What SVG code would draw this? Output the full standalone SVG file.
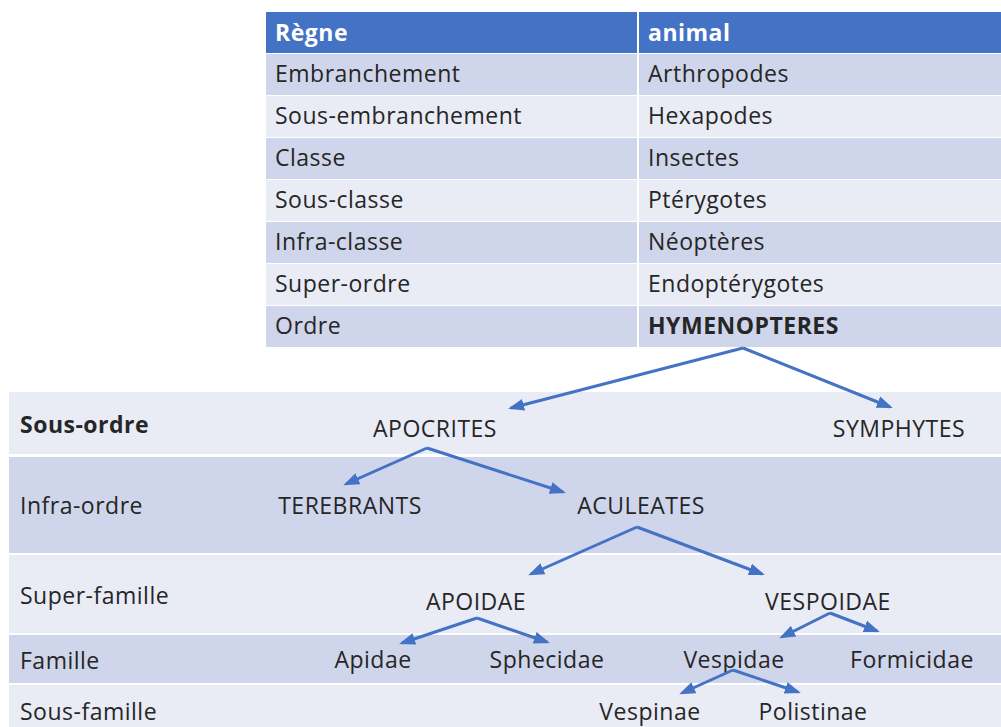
<svg xmlns="http://www.w3.org/2000/svg" width="1001" height="727" viewBox="0 0 1001 727">
<style>
text{font-family:"Open Sans","Liberation Sans",sans-serif;font-size:23px;letter-spacing:0.5px;fill:#262626}
.h{fill:#fff;font-weight:bold}
.b{font-weight:bold}
.m{text-anchor:middle}
.dk{fill:#CFD5EA}
.lt{fill:#E9EBF5}
.c{fill:none;stroke:#4472C4;stroke-width:3;marker-end:url(#ah)}
</style>
<defs>
<marker id="ah" markerUnits="userSpaceOnUse" markerWidth="17" markerHeight="13" refX="13" refY="6" orient="auto" viewBox="0 0 17 12">
<path d="M0,0 L16,6 L0,12 z" fill="#4472C4"/>
</marker>
</defs>
<rect width="1001" height="727" fill="#fff"/>
<g id="table">
<rect x="266" y="12" width="735" height="41" fill="#4472C4"/>
<rect class="dk" x="266" y="54" width="735" height="41"/>
<rect class="lt" x="266" y="96" width="735" height="41"/>
<rect class="dk" x="266" y="138" width="735" height="41"/>
<rect class="lt" x="266" y="180" width="735" height="41"/>
<rect class="dk" x="266" y="222" width="735" height="41"/>
<rect class="lt" x="266" y="264" width="735" height="41"/>
<rect class="dk" x="266" y="306" width="735" height="41"/>
<line x1="638" y1="12" x2="638" y2="347" stroke="#fff" stroke-width="2"/>
<text class="h" x="275" y="41">Règne</text>
<text class="h" x="648" y="41">animal</text>
<text x="275" y="82">Embranchement</text><text x="648" y="82">Arthropodes</text>
<text x="275" y="124">Sous-embranchement</text><text x="648" y="124">Hexapodes</text>
<text x="275" y="166">Classe</text><text x="648" y="166">Insectes</text>
<text x="275" y="208">Sous-classe</text><text x="648" y="208">Ptérygotes</text>
<text x="275" y="250">Infra-classe</text><text x="648" y="250">Néoptères</text>
<text x="275" y="292">Super-ordre</text><text x="648" y="292">Endoptérygotes</text>
<text x="275" y="334">Ordre</text><text class="b" x="648" y="334">HYMENOPTERES</text>
</g>
<g id="bands">
<rect class="lt" x="9" y="392" width="992" height="62"/>
<rect class="dk" x="9" y="457" width="992" height="96"/>
<rect class="lt" x="9" y="555" width="992" height="78"/>
<rect class="dk" x="9" y="635" width="992" height="48"/>
<rect class="lt" x="9" y="685" width="992" height="42"/>
<text class="b" x="20" y="433">Sous-ordre</text>
<text x="20" y="514">Infra-ordre</text>
<text x="20" y="604">Super-famille</text>
<text x="20" y="669">Famille</text>
<text x="20" y="720">Sous-famille</text>
</g>
<g id="n-apocrites"><text class="m" x="435" y="437">APOCRITES</text></g>
<g id="n-symphytes"><text class="m" x="899" y="437">SYMPHYTES</text></g>
<g id="n-terebrants"><text class="m" x="350" y="514">TEREBRANTS</text></g>
<g id="n-aculeates"><text class="m" x="641" y="514">ACULEATES</text></g>
<g id="n-apoidae"><text class="m" x="476" y="610">APOIDAE</text></g>
<g id="n-vespoidae"><text class="m" x="828" y="610">VESPOIDAE</text></g>
<g id="n-apidae"><text class="m" x="373" y="668">Apidae</text></g>
<g id="n-sphecidae"><text class="m" x="547" y="668">Sphecidae</text></g>
<g id="n-vespidae"><text class="m" x="734" y="668">Vespidae</text></g>
<g id="n-formicidae"><text class="m" x="912" y="668">Formicidae</text></g>
<g id="n-vespinae"><text class="m" x="650" y="720">Vespinae</text></g>
<g id="n-polistinae"><text class="m" x="813" y="720">Polistinae</text></g>
<g id="connectors">
<path class="c" d="M743,348 L511,408"/>
<path class="c" d="M743,348 L890,407"/>
<path class="c" d="M427,448 L346,484"/>
<path class="c" d="M427,448 L563,492"/>
<path class="c" d="M637,527 L531,574"/>
<path class="c" d="M637,527 L762,574"/>
<path class="c" d="M477,618 L402,643"/>
<path class="c" d="M477,618 L547,642"/>
<path class="c" d="M830,613 L782,637"/>
<path class="c" d="M830,613 L877,631"/>
<path class="c" d="M733,670 L682,693"/>
<path class="c" d="M733,670 L798,692"/>
</g>
</svg>
